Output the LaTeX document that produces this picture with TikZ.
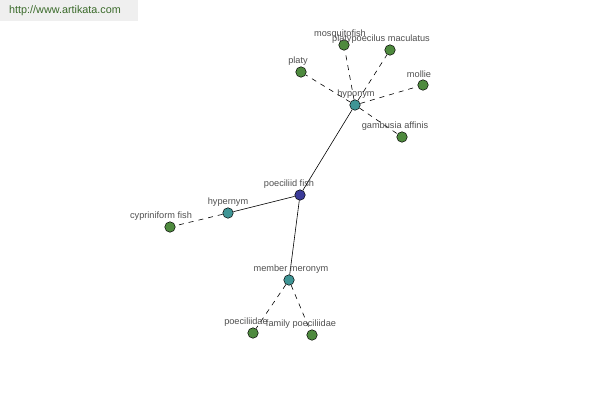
\documentclass[tikz,border=0pt]{standalone}
\usepackage{fontspec}
\setmainfont{Liberation Sans}
\begin{document}
\begin{tikzpicture}[x=1pt,y=-1pt,
  dot/.style={circle,draw=black,line width=0.5pt,minimum size=10.5pt,inner sep=0pt},
  leaf/.style={dot,fill=leafgreen},
  rel/.style={dot,fill=relteal},
  hub/.style={dot,fill=hubblue},
  lbl/.style={text=labelgray,font=\fontsize{9.2}{10}\selectfont,inner sep=0pt},
  solidedge/.style={draw=black,line width=0.6pt},
  dashedge/.style={draw=black,line width=0.6pt,dash pattern=on 5pt off 5pt}]
\definecolor{leafgreen}{HTML}{4E8A3E}
\definecolor{relteal}{HTML}{3F9595}
\definecolor{hubblue}{HTML}{3A3A98}
\definecolor{labelgray}{HTML}{505050}
\definecolor{headbg}{HTML}{EFEFEF}
\definecolor{headtext}{HTML}{3A6A2A}
\useasboundingbox (0,0) rectangle (600,400);
\fill[white] (0,0) rectangle (600,400);
\fill[headbg] (0,0) rectangle (138,21);
\node[text=headtext,font=\fontsize{10.8}{12}\selectfont,anchor=west,inner sep=0pt] (url) at (9,11) {http://www.artikata.com};

\node[hub] (pf) at (300,195) {};
\node[rel] (hypo) at (355,105) {};
\node[rel] (hyper) at (228,213) {};
\node[rel] (mero) at (289,280) {};
\node[leaf] (cyp) at (170,227) {};
\node[leaf] (mosq) at (344,45) {};
\node[leaf] (platyp) at (390,50) {};
\node[leaf] (platy) at (301,72) {};
\node[leaf] (mollie) at (423,85) {};
\node[leaf] (gamb) at (402,137) {};
\node[leaf] (poec) at (253,333) {};
\node[leaf] (fampoec) at (312,335) {};

\path[solidedge] (pf) -- (hypo);
\path[solidedge] (pf) -- (hyper);
\path[solidedge] (pf) -- (mero);
\path[dashedge] (hyper) -- (cyp);
\path[dashedge] (hypo) -- (mosq);
\path[dashedge] (hypo) -- (platyp);
\path[dashedge] (hypo) -- (platy);
\path[dashedge] (hypo) -- (mollie);
\path[dashedge] (hypo) -- (gamb);
\path[dashedge] (mero) -- (poec);
\path[dashedge] (mero) -- (fampoec);

\node[lbl] (lmosq) at (340,34) {mosquitofish};
\node[lbl] (lplatyp) at (381,39) {platypoecilus maculatus};
\node[lbl] (lplaty) at (298,61) {platy};
\node[lbl] (lmollie) at (419,74) {mollie};
\node[lbl] (lhypo) at (356,94) {hyponym};
\node[lbl] (lgamb) at (395,126) {gambusia affinis};
\node[lbl] (lpf) at (289,184) {poeciliid fish};
\node[lbl] (lhyper) at (228,202) {hypernym};
\node[lbl] (lcyp) at (161,216) {cypriniform fish};
\node[lbl] (lmero) at (291,269) {member meronym};
\node[lbl] (lpoec) at (246,322) {poeciliidae};
\node[lbl] (lfam) at (301,324) {family poeciliidae};
\end{tikzpicture}
\end{document}
